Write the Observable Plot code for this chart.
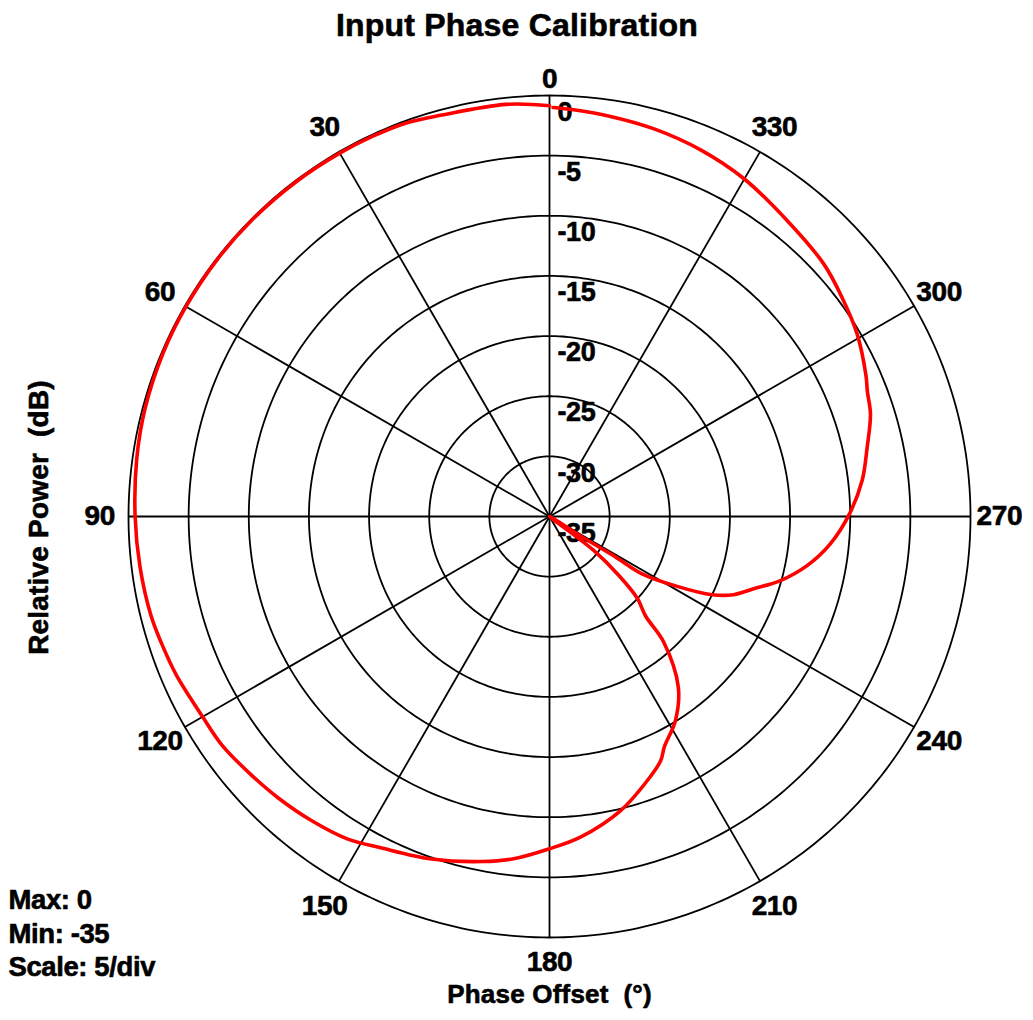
<!DOCTYPE html>
<html><head><meta charset="utf-8">
<script src="https://cdn.jsdelivr.net/npm/d3@7"></script>
<script src="https://cdn.jsdelivr.net/npm/@observablehq/plot@0.6"></script>
<style>
html,body{margin:0;padding:0;background:#fff}
svg{display:block}
</style>
</head><body><div id="chart"></div>
<script>
// ---- data ----
const phaseDeg = [0, 6, 15, 20, 25, 30, 37, 45, 52, 60, 67, 75, 82, 90, 97, 104, 108, 113, 120, 125, 131, 136, 142, 148, 153, 161, 169, 174, 180, 185.5, 193.6, 201, 204.5, 206.5, 211.7, 217, 222.3, 224, 227, 229.6, 232.5, 235, 238, 238.5, 238.2, 241.3, 244.3, 247, 250.5, 254.5, 259.2, 264.5, 270.5, 276.6, 282.3, 287.7, 291.5, 294, 300.7, 307, 312.7, 321.2, 330, 337.6, 344.9, 351.8, 356.6, 359.5];
const powerDb  = [-0.85, -0.55, -0.45, -0.18, -0.14, -0.12, -0.1, -0.08, -0.08, -0.1, -0.12, -0.2, -0.35, -0.55, -0.7, -0.86, -1.06, -1.29, -1.7, -1.8, -2.2, -2.5, -2.9, -3.37, -4.09, -4.88, -5.78, -6.39, -7.38, -8.22, -9.85, -11.76, -12.7, -13.6, -15.07, -17.2, -20.9, -23.5, -25, -27.4, -30.4, -35, -31.5, -28.5, -26, -22.9, -20, -18.37, -17, -15.07, -13.2, -11.53, -10.06, -8.83, -7.97, -6.99, -6.6, -6.2, -5.26, -4.6, -4.0, -3.45, -2.6, -2.03, -1.62, -1.33, -1.13, -1.0];
const ringValues = [0, -5, -10, -15, -20, -25, -30, -35];
const angleTicks = [0, 30, 60, 90, 120, 150, 180, 210, 240, 270, 300, 330];
const titleText = "Input Phase Calibration";
const yLabel = "Relative Power \u00a0(dB)";
const xLabel = "Phase Offset \u00a0(\u00b0)";
const statsText = "Max: 0\nMin: -35\nScale: 5/div";

const MIN = -35, MAX = 0;
const rad = d => d * Math.PI / 180;
// angle measured counter-clockwise from top
const px = (deg, db) => -(db - MIN) * Math.sin(rad(deg));
const py = (deg, db) => (db - MIN) * Math.cos(rad(deg));

const ringPts = ringValues.filter(v => v > MIN)
  .flatMap(v => d3.range(0, 361, 1).map(a => ({v, a})));
const curve = phaseDeg.map((a, i) => ({a, db: powerDb[i]}));

const font = "Liberation Sans, Arial, Helvetica, sans-serif";
const heavy = {fill: "black", stroke: "black", strokeWidth: 0.6};
const angleLabel = (filter, dy) => Plot.text(angleTicks, {
  filter, x: d => px(d, MAX + 2.4), y: d => py(d, MAX + 2.4), text: d => String(d), fontSize: 28, dy, ...heavy
});

const chart = Plot.plot({
  width: 1033,
  height: 1020,
  margin: 0,
  x: {domain: [-35, 35], range: [128, 970], axis: null},
  y: {domain: [-35, 35], range: [937, 95], axis: null},
  style: {fontFamily: font, fontWeight: "bold", background: "#fff", letterSpacing: "-0.4px"},
  marks: [
    Plot.line(ringPts, {x: d => px(d.a, d.v), y: d => py(d.a, d.v), z: "v", stroke: "black", strokeWidth: 1.8}),
    Plot.link(angleTicks, {x1: d => px(d, MIN), y1: d => py(d, MIN), x2: d => px(d, MAX), y2: d => py(d, MAX), stroke: "black", strokeWidth: 1.8}),
    Plot.text(ringValues, {x: d => px(0, MIN), y: d => py(0, d), text: d => String(d), textAnchor: "start", lineAnchor: "top", dx: 8, dy: 6, fontSize: 27, ...heavy}),
    Plot.line(curve, {x: d => px(d.a, d.db), y: d => py(d.a, d.db), curve: "catmull-rom", stroke: "#ff0000", strokeWidth: 3.6, strokeLinejoin: "round", strokeLinecap: "round"}),
    angleLabel(d => d !== 0 && d !== 180, 0),
    angleLabel(d => d === 0, 12),
    angleLabel(d => d === 180, -4),
    Plot.text([titleText], {frameAnchor: "top", lineAnchor: "top", dy: 13, fontSize: 32, ...heavy}),
    Plot.text([yLabel], {frameAnchor: "left", textAnchor: "middle", dx: 39, dy: 7, rotate: -90, fontSize: 28, ...heavy}),
    Plot.text([xLabel], {x: () => 0, frameAnchor: "bottom", dy: -18, fontSize: 26, ...heavy}),
    Plot.text([statsText], {frameAnchor: "top-left", textAnchor: "start", lineAnchor: "top", dx: 8, dy: 885, fontSize: 27.5, lineHeight: 1.22, ...heavy})
  ]
});
// slightly wider spacing for the title and the axis titles
d3.select(chart).selectAll("text").filter(function() {
  const t = this.textContent;
  return t === titleText || t === yLabel || t === xLabel;
}).style("letter-spacing", "0.2px");
document.getElementById("chart").appendChild(chart);
</script>
</body></html>
